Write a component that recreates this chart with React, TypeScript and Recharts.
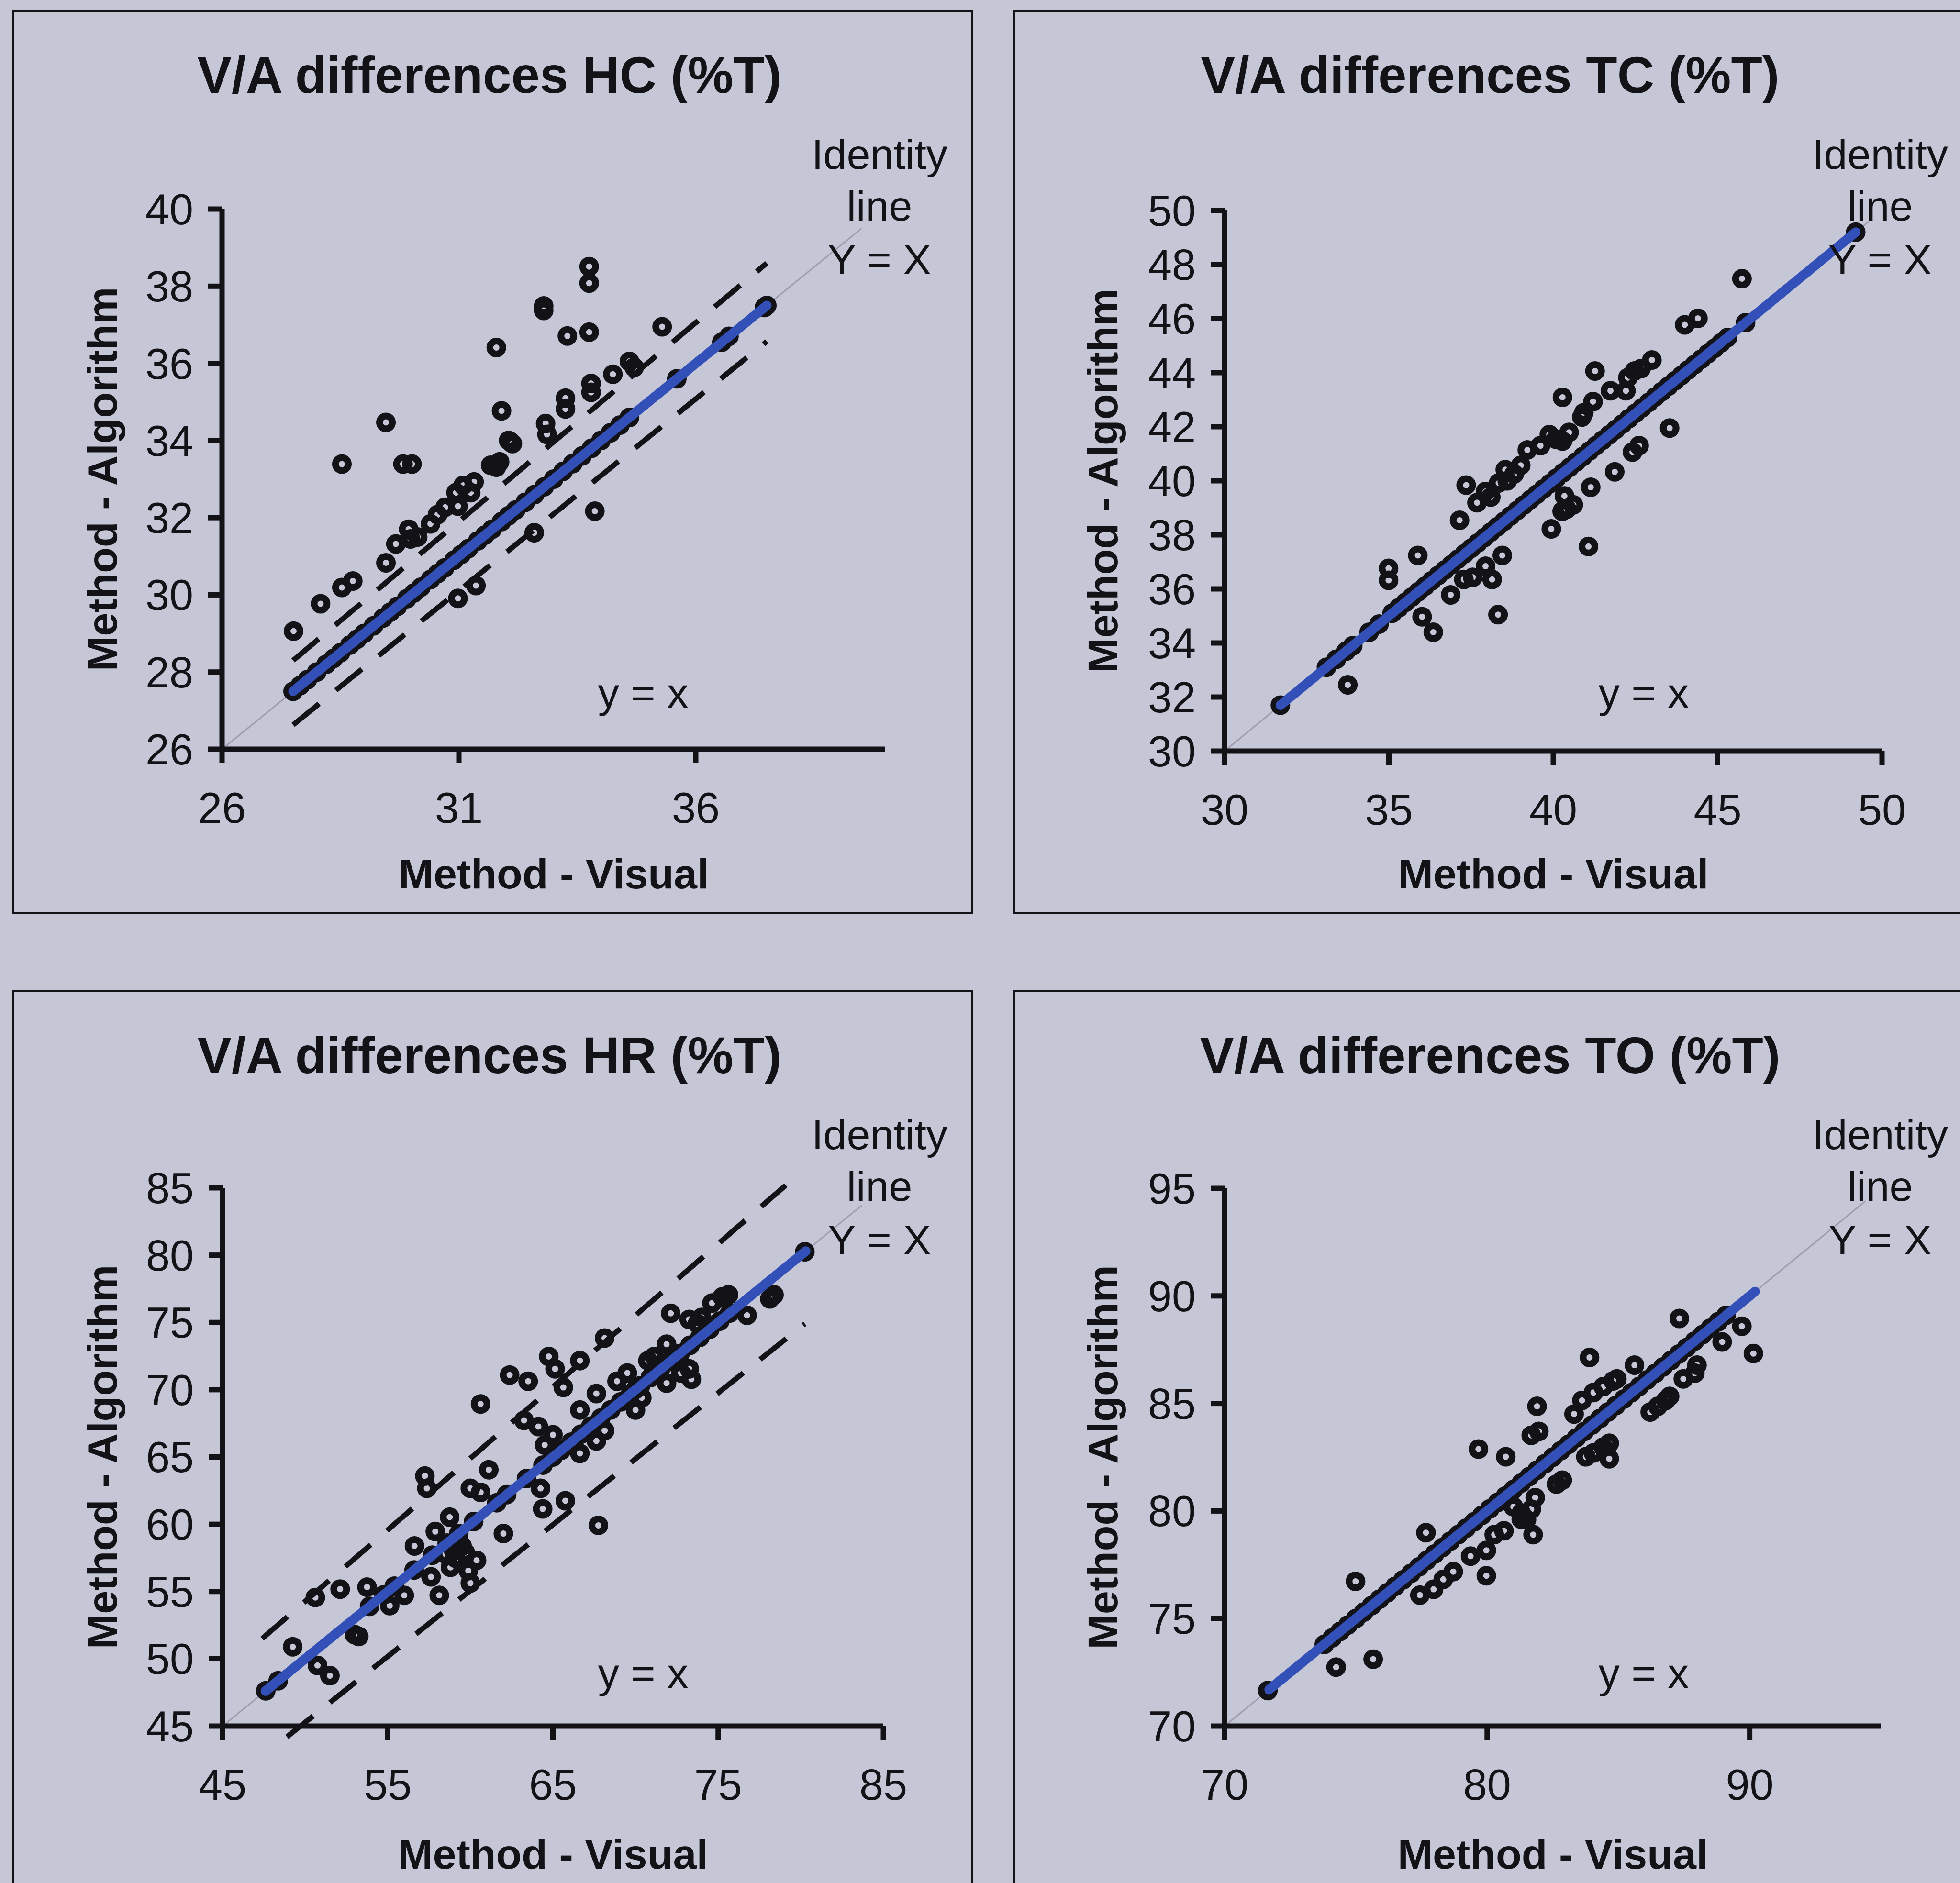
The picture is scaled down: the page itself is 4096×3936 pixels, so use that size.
import { ScatterChart, Scatter, XAxis, YAxis, ReferenceLine } from 'recharts';

type Pair = [number, number];

const FONT = '"Liberation Sans", Arial, Helvetica, sans-serif';
const INK = '#121217';
const BLUE = '#3350b9';
const IDENTITY_GREY = '#9c9eae';
const PAGE_BG = '#c5c7d7';

const FRAME_W = 2000;
const FRAME_H = 1882;
const Y_AXIS_W = 220;
const X_AXIS_H = 170;

// ---- HC ----
const hcTicksX = [26, 31, 36];
const hcTicksY = [26, 28, 30, 32, 34, 36, 38, 40];
const hcPoints: Pair[] = [
  [27.5, 27.5], [27.65, 27.65], [27.8, 27.8], [28.0, 28.0], [28.2, 28.2], [28.35, 28.35],
  [28.5, 28.5], [28.7, 28.7], [28.85, 28.85], [29.0, 29.0], [29.2, 29.2], [29.4, 29.4],
  [29.55, 29.55], [29.7, 29.7], [29.9, 29.9], [30.05, 30.05], [30.2, 30.2], [30.4, 30.4],
  [30.55, 30.55], [30.7, 30.7], [30.9, 30.9], [31.05, 31.05], [31.2, 31.2], [31.4, 31.4],
  [31.55, 31.55], [31.7, 31.7], [31.9, 31.9], [32.05, 32.05], [32.2, 32.2], [32.4, 32.4],
  [32.6, 32.6], [32.8, 32.8], [33.0, 33.0], [33.2, 33.2], [33.4, 33.4], [33.6, 33.6],
  [33.8, 33.8], [34.0, 34.0], [34.2, 34.2], [34.4, 34.4], [34.6, 34.6], [35.6, 35.6],
  [36.55, 36.55], [36.7, 36.7], [37.45, 37.45], [37.5, 37.5],
  [27.51, 29.06], [28.08, 29.77], [28.53, 30.19], [28.76, 30.36], [28.53, 33.39], [29.46, 34.47],
  [29.82, 33.39], [30.01, 33.39], [29.46, 30.83], [29.67, 31.32], [29.94, 31.7], [30.13, 31.5],
  [29.98, 31.45], [30.4, 31.84], [30.55, 32.08], [30.71, 32.27], [30.94, 32.65], [31.09, 32.84],
  [31.25, 32.65], [30.98, 32.3], [31.32, 32.93], [31.67, 33.36], [31.79, 33.31], [31.86, 33.45],
  [31.79, 36.41], [31.9, 34.77], [32.09, 33.97], [32.13, 33.92], [32.05, 34.0], [32.79, 37.49],
  [32.79, 37.37], [32.83, 34.44], [32.86, 34.16], [33.25, 35.1], [33.25, 34.82], [33.29, 36.71],
  [33.75, 36.81], [33.75, 38.51], [33.75, 38.08], [33.79, 35.25], [33.79, 35.48], [34.25, 35.72],
  [34.6, 36.05], [34.7, 35.9], [35.29, 36.95],
  [30.98, 29.91], [31.36, 30.24], [32.59, 31.61], [33.87, 32.17],
];
const hcTrend: Pair[] = [[27.5, 27.5], [37.5, 37.5]];
const hcIdentity: Pair[] = [[26, 26], [39.5, 39.5]];
const hcUpper: Pair[] = [[27.5, 28.3], [37.5, 38.6]];
const hcLower: Pair[] = [[27.5, 26.63], [37.5, 36.57]];

// ---- TC ----
const tcTicksX = [30, 35, 40, 45, 50];
const tcTicksY = [30, 32, 34, 36, 38, 40, 42, 44, 46, 48, 50];
const tcPoints: Pair[] = [
  [31.7, 31.7], [33.1, 33.1], [33.4, 33.4], [33.7, 33.7], [33.9, 33.9], [34.4, 34.4],
  [34.7, 34.7], [35.1, 35.1], [35.3, 35.3], [35.5, 35.5], [35.7, 35.7], [35.9, 35.9],
  [36.1, 36.1], [36.3, 36.3], [36.5, 36.5], [36.7, 36.7], [36.9, 36.9], [37.1, 37.1],
  [37.3, 37.3], [37.5, 37.5], [37.7, 37.7], [37.9, 37.9], [38.1, 38.1], [38.3, 38.3],
  [38.5, 38.5], [38.7, 38.7], [38.9, 38.9], [39.1, 39.1], [39.3, 39.3], [39.5, 39.5],
  [39.7, 39.7], [39.9, 39.9], [40.1, 40.1], [40.3, 40.3], [40.5, 40.5], [40.7, 40.7],
  [40.9, 40.9], [41.1, 41.1], [41.3, 41.3], [41.5, 41.5], [41.7, 41.7], [41.9, 41.9],
  [42.1, 42.1], [42.3, 42.3], [42.5, 42.5], [42.7, 42.7], [42.9, 42.9], [43.1, 43.1],
  [43.3, 43.3], [43.5, 43.5], [43.7, 43.7], [43.9, 43.9], [44.1, 44.1], [44.3, 44.3],
  [44.5, 44.5], [44.7, 44.7], [44.9, 44.9], [45.1, 45.1], [45.3, 45.3], [45.85, 45.85],
  [49.2, 49.2],
  [33.75, 32.45], [34.99, 36.76], [34.99, 36.32], [35.88, 37.24], [36.01, 34.97], [36.35, 34.4],
  [36.88, 35.78], [37.15, 38.54], [37.35, 39.84], [37.28, 36.35], [37.55, 36.43], [37.94, 36.84],
  [38.14, 36.35], [38.45, 37.24], [38.32, 35.05], [37.68, 39.19], [37.94, 39.6], [38.34, 39.92],
  [38.54, 40.41], [38.81, 40.25], [39.01, 40.57], [38.1, 39.4], [38.6, 40.0], [39.21, 41.14],
  [39.61, 41.3], [39.88, 41.71], [40.08, 41.54], [40.28, 41.47], [40.48, 41.79], [40.28, 43.09],
  [40.87, 42.36], [40.93, 42.52], [41.21, 42.93], [41.27, 44.06], [41.74, 43.33], [42.21, 43.33],
  [42.27, 43.82], [42.47, 44.06], [42.67, 44.15], [43.0, 44.47], [44.0, 45.77], [44.4, 46.01],
  [45.74, 47.48],
  [40.34, 39.44], [40.41, 38.95], [40.61, 39.11], [40.27, 38.87], [39.94, 38.22], [41.07, 37.57],
  [41.14, 39.76], [41.87, 40.33], [42.41, 41.06], [42.61, 41.3], [43.54, 41.95],
];
const tcTrend: Pair[] = [[31.7, 31.7], [49.2, 49.2]];
const tcIdentity: Pair[] = [[30, 30], [49.6, 49.6]];

// ---- HR ----
const hrTicksX = [45, 55, 65, 75, 85];
const hrTicksY = [45, 50, 55, 60, 65, 70, 75, 80, 85];
const hrPoints: Pair[] = [
  [47.62, 47.62], [48.37, 48.37], [53.9, 53.9], [54.75, 54.75], [55.4, 55.4], [56.6, 56.6],
  [57.7, 57.7], [58.6, 58.6], [59.3, 59.3], [60.2, 60.2], [61.6, 61.6], [62.2, 62.2],
  [63.4, 63.4], [64.4, 64.4], [65.0, 65.0], [65.5, 65.5], [66.1, 66.1], [66.7, 66.7],
  [67.3, 67.3], [67.9, 67.9], [68.5, 68.5], [69.1, 69.1], [69.7, 69.7], [70.3, 70.3],
  [70.9, 70.9], [71.5, 71.5], [72.1, 72.1], [72.7, 72.7], [73.3, 73.3], [73.9, 73.9],
  [74.5, 74.5], [75.1, 75.1], [75.7, 75.7], [80.25, 80.25],
  [49.25, 50.89], [50.75, 49.51], [51.5, 48.75], [50.62, 54.56], [52.12, 55.18], [52.98, 51.81],
  [53.25, 51.66], [53.75, 55.33], [55.12, 53.95], [56.0, 54.72], [56.62, 58.39], [57.62, 56.09],
  [58.12, 54.72], [57.25, 63.59], [57.37, 62.67], [57.88, 59.46], [58.75, 60.53], [58.5, 57.78],
  [59.12, 57.47], [59.5, 58.39], [59.88, 56.55], [60.0, 55.63], [60.38, 57.32], [59.25, 59.0],
  [59.0, 58.0], [59.7, 57.9], [58.8, 56.8], [60.0, 62.67], [60.62, 62.37], [60.62, 68.94],
  [61.12, 64.05], [62.0, 59.31], [62.38, 71.09], [63.5, 70.63], [63.25, 67.72], [64.12, 67.26],
  [65.0, 66.65], [64.5, 65.89], [64.25, 62.67], [64.38, 61.14], [65.75, 61.75], [64.75, 72.47],
  [65.13, 71.55], [65.63, 70.17], [66.63, 72.16], [68.13, 73.84], [67.75, 59.92], [66.63, 68.49],
  [67.63, 69.71], [68.13, 66.96], [67.63, 66.19], [66.63, 65.27], [68.88, 70.63], [69.5, 71.24],
  [70.0, 68.49], [70.38, 69.4], [70.0, 70.02], [70.75, 72.16], [71.13, 72.47], [71.88, 70.48],
  [71.88, 73.38], [72.13, 75.68], [72.75, 71.24], [73.25, 71.55], [73.38, 70.78], [73.25, 75.22],
  [73.75, 74.91], [74.0, 75.37], [74.63, 76.44], [75.25, 76.9], [75.63, 77.05], [76.75, 75.53],
  [78.13, 76.75], [78.38, 77.05],
];
const hrTrend: Pair[] = [[47.6, 47.6], [80.3, 80.3]];
const hrIdentity: Pair[] = [[45, 45], [83.7, 83.7]];
const hrUpper: Pair[] = [[47.4, 51.5], [79.1, 85.2]];
const hrLower: Pair[] = [[48.9, 44.2], [80.25, 74.9]];

// ---- TO ----
const toTicksX = [70, 80, 90];
const toTicksY = [70, 75, 80, 85, 90, 95];
const toPoints: Pair[] = [
  [71.65, 71.65], [73.8, 73.8], [74.1, 74.1], [74.4, 74.4], [74.7, 74.7], [75.0, 75.0],
  [75.3, 75.3], [75.6, 75.6], [75.9, 75.9], [76.2, 76.2], [76.5, 76.5], [76.8, 76.8],
  [77.1, 77.1], [77.4, 77.4], [77.7, 77.7], [78.0, 78.0], [78.3, 78.3], [78.6, 78.6],
  [78.9, 78.9], [79.2, 79.2], [79.5, 79.5], [79.8, 79.8], [80.1, 80.1], [80.4, 80.4],
  [80.7, 80.7], [81.0, 81.0], [81.3, 81.3], [81.6, 81.6], [81.9, 81.9], [82.2, 82.2],
  [82.5, 82.5], [82.8, 82.8], [83.1, 83.1], [83.4, 83.4], [83.7, 83.7], [84.0, 84.0],
  [84.3, 84.3], [84.6, 84.6], [84.9, 84.9], [85.2, 85.2], [85.5, 85.5], [85.8, 85.8],
  [86.1, 86.1], [86.4, 86.4], [86.7, 86.7], [87.0, 87.0], [87.3, 87.3], [87.6, 87.6],
  [87.9, 87.9], [88.2, 88.2], [88.5, 88.5], [88.8, 88.8], [89.1, 89.1],
  [74.25, 72.74], [75.66, 73.11], [74.99, 76.73], [77.44, 76.09], [77.96, 76.36], [78.33, 76.82],
  [78.71, 77.18], [79.37, 77.9], [79.97, 78.17], [79.97, 76.99], [77.67, 78.99], [80.27, 78.9],
  [80.64, 79.08], [79.67, 82.88], [80.71, 82.52], [81.3, 79.9], [81.68, 80.08], [81.83, 80.62],
  [81.75, 78.9], [81.3, 79.62], [81.0, 80.2], [81.5, 79.6], [81.68, 83.52], [81.97, 83.7],
  [81.9, 84.87], [82.64, 81.25], [82.86, 81.43], [83.31, 84.51], [83.61, 85.14], [83.9, 87.14],
  [83.76, 82.52], [84.05, 82.7], [84.42, 82.97], [84.65, 83.15], [84.65, 82.43], [84.05, 85.51],
  [84.42, 85.78], [84.8, 86.05], [84.94, 86.14], [85.61, 86.78], [86.21, 84.6], [86.5, 84.87],
  [86.8, 85.14], [86.95, 85.33], [87.47, 86.14], [87.91, 86.41], [87.99, 86.78], [87.32, 88.95],
  [88.95, 87.86], [89.7, 88.59], [90.14, 87.32],
];
const toTrend: Pair[] = [[71.7, 71.7], [90.2, 90.2]];
const toIdentity: Pair[] = [[70, 70], [94.4, 94.4]];

interface PanelSpec {
  title: string;
  frame: { x: number; y: number };
  plot: { l: number; t: number; r: number; b: number };
  xDomain: Pair;
  yDomain: Pair;
  xTicks: number[];
  yTicks: number[];
  points: Pair[];
  trend: Pair[];
  identity: Pair[];
  bands: Pair[][];
}

const panels: PanelSpec[] = [
  {
    title: 'V/A differences HC (%T)',
    frame: { x: 28, y: 23 },
    plot: { l: 464, t: 437, r: 1850, b: 1566 },
    xDomain: [26, 40], yDomain: [26, 40], xTicks: hcTicksX, yTicks: hcTicksY,
    points: hcPoints, trend: hcTrend, identity: hcIdentity, bands: [hcUpper, hcLower],
  },
  {
    title: 'V/A differences TC (%T)',
    frame: { x: 2119, y: 23 },
    plot: { l: 2559, t: 440, r: 3933, b: 1570 },
    xDomain: [30, 50], yDomain: [30, 50], xTicks: tcTicksX, yTicks: tcTicksY,
    points: tcPoints, trend: tcTrend, identity: tcIdentity, bands: [],
  },
  {
    title: 'V/A differences HR (%T)',
    frame: { x: 28, y: 2072 },
    plot: { l: 465, t: 2483, r: 1846, b: 3608 },
    xDomain: [45, 85], yDomain: [45, 85], xTicks: hrTicksX, yTicks: hrTicksY,
    points: hrPoints, trend: hrTrend, identity: hrIdentity, bands: [hrUpper, hrLower],
  },
  {
    title: 'V/A differences TO (%T)',
    frame: { x: 2119, y: 2072 },
    plot: { l: 2559, t: 2484, r: 3931, b: 3608 },
    xDomain: [70, 95], yDomain: [70, 95], xTicks: toTicksX, yTicks: toTicksY,
    points: toPoints, trend: toTrend, identity: toIdentity, bands: [],
  },
];

const toXY = (list: Pair[]) => list.map(([x, y]) => ({ x, y }));

// open black ring used for every observation: heavy stroke, small hole
const Ring = (props: any) => (
  <circle cx={props.cx} cy={props.cy} r={13.5} fill="none" stroke={INK} strokeWidth={14} />
);

const axisStroke = { stroke: INK, strokeWidth: 11 };
const tickText = { fontSize: 90, fill: INK, fontFamily: FONT };

function Panel({ spec }: { spec: PanelSpec }) {
  const { frame, plot } = spec;
  const margin = {
    left: plot.l - frame.x - Y_AXIS_W,
    top: plot.t - frame.y,
    right: frame.x + FRAME_W - plot.r,
    bottom: frame.y + FRAME_H - plot.b - X_AXIS_H,
  };
  const midX = (plot.l + plot.r) / 2 - frame.x;
  const midY = (plot.t + plot.b) / 2 - frame.y;

  return (
    <div style={{ position: 'absolute', left: frame.x, top: frame.y, width: FRAME_W, height: FRAME_H }}>
      <div
        style={{
          position: 'absolute', left: -2, top: -2, width: FRAME_W, height: FRAME_H,
          border: `4px solid ${INK}`,
        }}
      />
      <div style={{ position: 'absolute', left: 0, top: 0 }}>
        <ScatterChart width={FRAME_W} height={FRAME_H} margin={margin}>
          <XAxis
            type="number" dataKey="x" domain={spec.xDomain} ticks={spec.xTicks} interval={0}
            allowDataOverflow height={X_AXIS_H} tickSize={29} tickMargin={61}
            stroke={INK} strokeWidth={11}
            axisLine={axisStroke} tickLine={axisStroke} tick={tickText}
          />
          <YAxis
            type="number" dataKey="y" domain={spec.yDomain} ticks={spec.yTicks} interval={0}
            allowDataOverflow width={Y_AXIS_W} tickSize={29} tickMargin={31}
            stroke={INK} strokeWidth={11}
            axisLine={axisStroke} tickLine={axisStroke} tick={tickText}
          />
          <ReferenceLine
            segment={toXY(spec.identity)} stroke={IDENTITY_GREY} strokeWidth={3} ifOverflow="visible"
          />
          {spec.bands.map((band, i) => (
            <ReferenceLine
              key={i} segment={toXY(band)} stroke={INK} strokeWidth={11}
              strokeDasharray="70 45" ifOverflow="visible"
            />
          ))}
          <Scatter data={toXY(spec.points)} shape={Ring} isAnimationActive={false} />
          <Scatter
            data={toXY(spec.trend)} shape={() => <g />} isAnimationActive={false}
            line={{ stroke: BLUE, strokeWidth: 20, strokeLinecap: 'round' }}
          />
        </ScatterChart>
      </div>
      <svg
        width={FRAME_W} height={FRAME_H}
        style={{ position: 'absolute', left: 0, top: 0, pointerEvents: 'none', overflow: 'visible' }}
        fontFamily={FONT} fill={INK}
      >
        <text x={995} y={171} textAnchor="middle" fontSize={107} fontWeight="bold">{spec.title}</text>
        <text x={1810} y={330} textAnchor="middle" fontSize={88}>Identity</text>
        <text x={1810} y={438} textAnchor="middle" fontSize={88}>line</text>
        <text x={1810} y={550} textAnchor="middle" fontSize={88}>Y = X</text>
        <text x={1316} y={1456} textAnchor="middle" fontSize={88}>y = x</text>
        <text x={midX} y={1834} textAnchor="middle" fontSize={88} fontWeight="bold">Method - Visual</text>
        <text
          transform={`translate(216, ${midY}) rotate(-90)`}
          textAnchor="middle" fontSize={88} fontWeight="bold"
        >
          Method - Algorithm
        </text>
      </svg>
    </div>
  );
}

export default function App() {
  return (
    <div
      style={{
        position: 'absolute', left: 0, top: 0, width: 4096, height: 3936,
        overflow: 'hidden', background: PAGE_BG,
      }}
    >
      {panels.map((p) => (
        <Panel key={p.title} spec={p} />
      ))}
    </div>
  );
}
